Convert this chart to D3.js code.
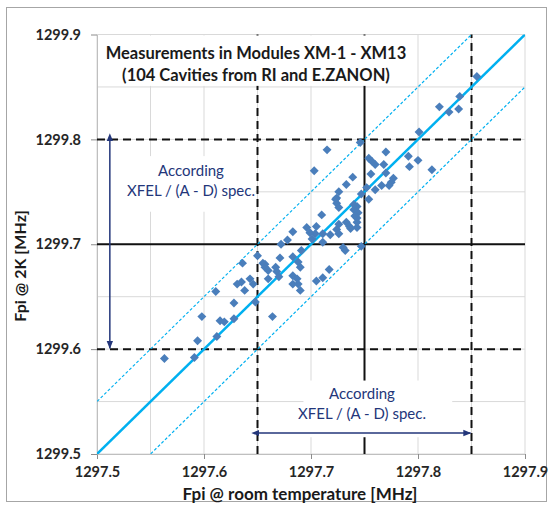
<!DOCTYPE html>
<html>
<head>
<meta charset="utf-8">
<script src="https://cdn.jsdelivr.net/npm/d3@7"></script>
<style>
  body { margin: 0; background: #fff; }
  svg text { font-family: Lato, "Open Sans", sans-serif; }
</style>
</head>
<body>
<svg width="549" height="506"></svg>
<script>

// valores (Fpi a temperatura ambiente / Fpi a 2K, MHz)
let fpiRoom = [
  1297.563, 1297.591, 1297.594, 1297.612, 1297.598, 1297.615, 1297.619, 1297.628, 1297.628, 1297.611,
  1297.631, 1297.635, 1297.638, 1297.643, 1297.646, 1297.648, 1297.636, 1297.650, 1297.655, 1297.657,
  1297.660, 1297.660, 1297.664, 1297.667, 1297.668, 1297.670, 1297.671, 1297.672, 1297.678,
  1297.683, 1297.688, 1297.690, 1297.691, 1297.683, 1297.687, 1297.688, 1297.683, 1297.690, 1297.705,
  1297.711, 1297.717, 1297.732, 1297.711, 1297.701, 1297.704, 1297.696, 1297.683, 1297.705, 1297.710,
  1297.711, 1297.718, 1297.724, 1297.726, 1297.733, 1297.724, 1297.724, 1297.726, 1297.733, 1297.715,
  1297.703, 1297.730, 1297.726, 1297.723,
  1297.746, 1297.770, 1297.754, 1297.760, 1297.768, 1297.756, 1297.739, 1297.777, 1297.775, 1297.773,
  1297.766, 1297.760, 1297.752, 1297.747, 1297.754, 1297.743, 1297.744, 1297.740, 1297.741, 1297.743,
  1297.736, 1297.743, 1297.747, 1297.770, 1297.737,
  1297.855, 1297.839, 1297.838, 1297.829, 1297.820, 1297.801, 1297.791, 1297.800, 1297.792, 1297.813,
  1297.726, 1297.743, 1297.740, 1297.657, 1297.757, 1297.699
];
let fpi2K = [
  1299.591, 1299.592, 1299.608, 1299.612, 1299.631, 1299.627, 1299.626, 1299.629, 1299.644, 1299.655,
  1299.662, 1299.664, 1299.656, 1299.667, 1299.662, 1299.645, 1299.682, 1299.689, 1299.682, 1299.681,
  1299.675, 1299.667, 1299.631, 1299.678, 1299.674, 1299.669, 1299.687, 1299.700, 1299.704,
  1299.688, 1299.683, 1299.678, 1299.694, 1299.670, 1299.667, 1299.662, 1299.662, 1299.656, 1299.665,
  1299.668, 1299.676, 1299.694, 1299.702, 1299.705, 1299.710, 1299.716, 1299.712, 1299.717, 1299.728,
  1299.710, 1299.709, 1299.714, 1299.719, 1299.721, 1299.739, 1299.744, 1299.750, 1299.757, 1299.790,
  1299.770, 1299.697, 1299.710, 1299.743,
  1299.797, 1299.788, 1299.782, 1299.776, 1299.776, 1299.767, 1299.764, 1299.763, 1299.759, 1299.756,
  1299.756, 1299.752, 1299.754, 1299.748, 1299.743, 1299.736, 1299.730, 1299.733, 1299.727, 1299.725,
  1299.717, 1299.716, 1299.698, 1299.768, 1299.715,
  1299.860, 1299.841, 1299.829, 1299.826, 1299.831, 1299.807, 1299.784, 1299.780, 1299.774, 1299.771,
  1299.735, 1299.721, 1299.738, 1299.678, 1299.779, 1299.711
];

let xTicks = [1297.5, 1297.6, 1297.7, 1297.8, 1297.9];
let yTicks = [1299.5, 1299.6, 1299.7, 1299.8, 1299.9];

// limites de la especificacion XFEL
let specRoom = [1297.65, 1297.85];
let specCold = [1299.6, 1299.8];
let midRoom = 1297.75;
let midCold = 1299.7;
let shift = 2.0;     // Fpi(2K) = Fpi(room) + 2.0
let band = 0.05;

let titleLines = ['Measurements in Modules XM-1 - XM13', '(104 Cavities from RI and E.ZANON)'];
let noteLines = ['According', 'XFEL / (A - D) spec.'];
let xLabel = 'Fpi @ room temperature [MHz]';
let yLabel = 'Fpi @ 2K [MHz]';

let data = fpiRoom.map((d, i) => ({room: d, cold: fpi2K[i]}));

let svg = d3.select('svg');

let x = d3.scaleLinear().domain([1297.5, 1297.9]).range([97, 525]);
let y = d3.scaleLinear().domain([1299.5, 1299.9]).range([454, 34.5]);

let navy = '#23367a';
let sky = '#00b0f0';

// marco exterior
svg.append('rect')
    .attr('x', 6.5).attr('y', 7.5)
    .attr('width', 540).attr('height', 494)
    .attr('fill', 'none')
    .attr('stroke', '#a6a6a6');

svg.append('defs').append('clipPath').attr('id', 'plot')
    .append('rect')
    .attr('x', x(1297.5)).attr('y', y(1299.9))
    .attr('width', x(1297.9) - x(1297.5))
    .attr('height', y(1299.5) - y(1299.9));

let defs = svg.select('defs');
['start', 'end'].forEach(function (k) {
    defs.append('marker')
        .attr('id', 'arrow-' + k)
        .attr('viewBox', '0 0 10 10')
        .attr('refX', k === 'end' ? 9 : 1).attr('refY', 5)
        .attr('markerWidth', 8).attr('markerHeight', 8)
        .attr('markerUnits', 'userSpaceOnUse')
        .attr('orient', 'auto-start-reverse')
        .append('path')
        .attr('d', 'M0,1 L10,5 L0,9 Z')
        .attr('fill', navy);
});

// rejilla
let grid = svg.append('g');
grid.selectAll('.gx')
    .data(x.ticks(8))
    .enter().append('line')
    .attr('x1', d => x(d)).attr('x2', d => x(d))
    .attr('y1', y(1299.5)).attr('y2', y(1299.9))
    .attr('stroke', '#d9d9d9');
grid.selectAll('.gy')
    .data(y.ticks(8))
    .enter().append('line')
    .attr('y1', d => y(d)).attr('y2', d => y(d))
    .attr('x1', x(1297.5)).attr('x2', x(1297.9))
    .attr('stroke', '#d9d9d9');

// ejes
let xAxis = svg.append('g')
    .attr('transform', 'translate(0,' + y(1299.5) + ')')
    .call(d3.axisBottom(x).tickValues(xTicks).tickSizeInner(5).tickSizeOuter(0).tickPadding(8)
        .tickFormat(d3.format('.1f')));
let yAxis = svg.append('g')
    .attr('transform', 'translate(' + x(1297.5) + ',0)')
    .call(d3.axisLeft(y).tickValues(yTicks).tickSizeInner(6).tickSizeOuter(0).tickPadding(10)
        .tickFormat(d3.format('.1f')));
[xAxis, yAxis].forEach(function (a) {
    a.select('.domain').attr('stroke', '#bfbfbf');
    a.selectAll('.tick line').attr('stroke', '#8c8c8c');
    a.selectAll('.tick text')
        .style('font-size', '14.5px')
        .style('font-weight', 'bold')
        .attr('fill', '#262626');
});

// lineas de la especificacion
let spec = svg.append('g').attr('stroke', '#111').attr('stroke-width', 2);
spec.selectAll('.vx')
    .data(specRoom)
    .enter().append('line')
    .attr('x1', d => x(d)).attr('x2', d => x(d))
    .attr('y1', y(1299.5)).attr('y2', y(1299.9))
    .attr('stroke-dasharray', '8,5');
spec.selectAll('.hy')
    .data(specCold)
    .enter().append('line')
    .attr('y1', d => y(d)).attr('y2', d => y(d))
    .attr('x1', x(1297.5)).attr('x2', x(1297.9))
    .attr('stroke-dasharray', '8,5');
spec.append('line')
    .attr('x1', x(midRoom)).attr('x2', x(midRoom))
    .attr('y1', y(1299.5)).attr('y2', y(1299.9));
spec.append('line')
    .attr('y1', y(midCold)).attr('y2', y(midCold))
    .attr('x1', x(1297.5)).attr('x2', x(1297.9));

// cajas blancas detras de los textos
let boxes = [
    {x0: 1297.5, x1: 1297.796, y0: 1299.9, y1: 1299.851},
    {x0: 1297.5, x1: 1297.648, y0: 1299.785, y1: 1299.731},
    {x0: 1297.692, x1: 1297.832, y0: 1299.571, y1: 1299.516}
];
svg.append('g').selectAll('rect')
    .data(boxes)
    .enter().append('rect')
    .attr('x', d => x(d.x0) + 1)
    .attr('y', d => y(d.y0) + 1)
    .attr('width', d => x(d.x1) - x(d.x0) - 1)
    .attr('height', d => y(d.y1) - y(d.y0) - 1)
    .attr('fill', '#fff');

// diagonales
let diag = svg.append('g').attr('clip-path', 'url(#plot)');
[{off: shift, dash: null, w: 2.5}, {off: shift + band, dash: '3,2', w: 1.2}, {off: shift - band, dash: '3,2', w: 1.2}]
    .forEach(function (l) {
        diag.append('line')
            .attr('x1', x(1297.4)).attr('y1', y(1297.4 + l.off))
            .attr('x2', x(1298.0)).attr('y2', y(1298.0 + l.off))
            .attr('stroke', sky)
            .attr('stroke-width', l.w)
            .attr('stroke-dasharray', l.dash);
    });

// puntos (diamantes)
svg.append('g').selectAll('path')
    .data(data)
    .enter().append('path')
    .attr('d', d3.symbol(d3.symbolSquare, 40))
    .attr('transform', d => 'translate(' + x(d.room) + ',' + y(d.cold) + ') rotate(45)')
    .attr('fill', '#4a7ebb');

// flechas
svg.append('line')
    .attr('x1', x(1297.512)).attr('x2', x(1297.512))
    .attr('y1', y(specCold[1]) + 1).attr('y2', y(specCold[0]) - 1)
    .attr('stroke', navy).attr('stroke-width', 1.5)
    .attr('marker-start', 'url(#arrow-start)')
    .attr('marker-end', 'url(#arrow-end)');
svg.append('line')
    .attr('y1', y(1299.52)).attr('y2', y(1299.52))
    .attr('x1', x(specRoom[0]) + 1).attr('x2', x(specRoom[1]) - 1)
    .attr('stroke', navy).attr('stroke-width', 1.5)
    .attr('marker-start', 'url(#arrow-start)')
    .attr('marker-end', 'url(#arrow-end)');

// textos
let title = svg.append('text')
    .attr('text-anchor', 'middle')
    .style('font-size', '16.5px')
    .style('font-weight', 'bold')
    .attr('fill', '#1a1a1a');
title.selectAll('tspan')
    .data(titleLines)
    .enter().append('tspan')
    .attr('x', 256)
    .attr('y', (d, i) => 59 + i * 22)
    .text(d => d);

[{cx: 191, cy: 176}, {cx: 362, cy: 399}].forEach(function (p) {
    svg.append('text')
        .attr('text-anchor', 'middle')
        .style('font-size', '15px')
        .attr('fill', navy)
        .selectAll('tspan')
        .data(noteLines)
        .enter().append('tspan')
        .attr('x', p.cx)
        .attr('y', (d, i) => p.cy + i * 20)
        .text(d => d);
});

svg.append('text')
    .attr('x', 300).attr('y', 500)
    .attr('text-anchor', 'middle')
    .style('font-size', '17px')
    .style('font-weight', 'bold')
    .attr('fill', '#1a1a1a')
    .text(xLabel);

svg.append('text')
    .attr('transform', 'translate(26,266) rotate(-90)')
    .attr('text-anchor', 'middle')
    .style('font-size', '16px')
    .style('font-weight', 'bold')
    .attr('fill', '#1a1a1a')
    .text(yLabel);

</script>
</body>
</html>
